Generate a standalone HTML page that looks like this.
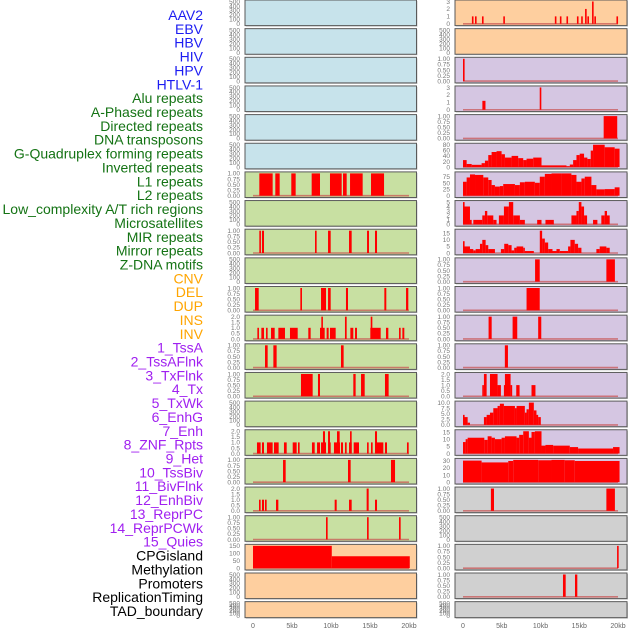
<!DOCTYPE html>
<html><head><meta charset="utf-8"><style>
html,body{margin:0;padding:0;background:#fff;}
svg{display:block;font-family:"Liberation Sans",sans-serif;}
</style></head><body>
<svg id="chart" width="630" height="630" viewBox="0 0 630 630" xmlns="http://www.w3.org/2000/svg"></svg>
<script>
// ---------- labels ----------
const trackLabels = ["AAV2","EBV","HBV","HIV","HPV","HTLV-1","Alu repeats","A-Phased repeats","Directed repeats","DNA transposons","G-Quadruplex forming repeats","Inverted repeats","L1 repeats","L2 repeats","Low_complexity A/T rich regions","Microsatellites","MIR repeats","Mirror repeats","Z-DNA motifs","CNV","DEL","DUP","INS","INV","1_TssA","2_TssAFlnk","3_TxFlnk","4_Tx","5_TxWk","6_EnhG","7_Enh","8_ZNF_Rpts","9_Het","10_TssBiv","11_BivFlnk","12_EnhBiv","13_ReprPC","14_ReprPCWk","15_Quies","CPGisland","Methylation","Promoters","ReplicationTiming","TAD_boundary"];
const labelGroups = [6,13,5,15,5];
const groupColors = ["#1c1cf2","#147314","#ffa500","#a020f0","#000000"];
const xTickLabels = ["0","5kb","10kb","15kb","20kb"];
const xTickValues = [0,5,10,15,20];

// ---------- panel scales (yMax) and tick sets ----------
const leftMax  = [500,500,500,500,500,500,1,500,1,500,1,2,1,1,500,2,1,2,1,150,500,500];
const rightMax = [3,500,1,3,1,80,88,5,17,1,1,1,1,2,10,15.5,31,1,500,1,1,500];
const leftBg  = ["b","b","b","b","b","b","g","g","g","g","g","g","g","g","g","g","g","g","g","o","o","o"];
const rightBg = ["o","o","p","p","p","p","p","p","p","p","p","p","p","p","p","p","p","y","y","y","y","y"];

// ---------- left data: [startKb, endKb, value] ----------
const leftL1 = [[.81,2.52,1],[2.86,3.42,1],[4.91,5.47,1],[7.52,8.59,1],[9.87,11.37,1],[11.54,12.01,1],[12.44,14.06,1],[15.13,16.8,1]];
const leftMIR = [[.81,.98,1],[1.15,1.41,1],[7.95,8.16,1],[9.62,9.96,1],[12.31,12.65,1],[14.62,14.87,1],[15.64,15.9,1]];
const leftDEL = [[.26,.73,1],[6.07,6.28,1],[8.72,9.36,1],[9.62,9.96,1],[11.92,12.18,1],[16.84,17.09,1],[19.62,19.91,1]];
const leftINS = [[.56,.73,1],[1.07,1.41,1],[1.67,1.84,1],[2.31,2.78,1],[3.25,4.1,1],[4.74,5.73,1],[7.09,7.39,1],[8.59,9.19,1],[9.44,9.7,1],[9.87,10.6,1],[12.48,12.86,1],[13.08,13.33,1],[15.04,16.37,1],[17.05,17.35,1],[18.72,18.93,1],[19.15,19.4,1],[8.76,8.89,2],[11.79,12.01,2],[15.09,15.3,2]];
const leftTssA = [[1.54,1.88,1],[2.61,3.03,1],[11.28,11.62,1]];
const leftTssAFlnk = [[6.15,7.65,1],[8.33,8.59,1],[12.86,13.16,1],[13.85,14.32,1],[16.92,17.39,1]];
const leftTx = [[.51,.98,1],[1.15,1.41,1],[1.79,2.52,1],[2.69,3.29,1],[3.97,4.32,1],[5.09,5.6,1],[5.77,5.98,1],[7.56,7.91,1],[8.21,8.59,1],[8.72,9.36,1],[9.66,9.96,1],[10.38,11.15,1],[11.28,11.54,1],[11.79,12.01,1],[12.31,12.65,1],[12.91,13.59,1],[14.62,14.83,1],[15.13,15.34,1],[15.81,16.71,1],[16.92,17.18,1],[19.74,19.96,1],[8.97,9.23,2],[9.62,9.87,2],[10.77,11.11,2],[12.44,12.65,2],[15.64,15.9,2]];
const leftTxWk = [[3.85,4.19,1],[12.18,12.52,1],[17.69,18.21,1]];
const leftEnhG = [[.77,.98,1],[1.15,1.41,1],[1.54,1.75,1],[2.95,3.25,1],[10.47,10.73,1],[12.31,12.65,1],[15.64,15.9,1],[14.57,14.83,2]];
const leftEnh = [[9.36,9.57,1],[14.62,14.83,1],[18.72,18.93,1]];
const leftCPG = [[0,10.1,150],[10.1,20.1,80]];
const leftRows = {6:leftL1,8:leftMIR,10:leftDEL,11:leftINS,12:leftTssA,13:leftTssAFlnk,15:leftTx,16:leftTxWk,17:leftEnhG,18:leftEnh,19:leftCPG};

// ---------- right data ----------
const rightAAV2 = [[1.15,1.3,1],[1.55,1.7,1],[2.45,2.6,1],[5.2,5.35,1],[11.85,12,1],[12.5,12.65,1],[13.35,13.5,1],[14.7,14.85,1],[15.25,15.4,1],[15.75,15.9,2],[16.05,16.2,1],[16.65,16.8,3],[16.95,17.1,1],[19.8,19.95,1]];
const rightHIV = [[0,.2,1]];
const rightAlu = [[2.5,2.9,1.2],[9.9,10.05,3]];
const rightAPhased = [[18.15,19.9,1]];
const gquadEdges = [0,0.47,1.12,2.4,2.83,3.26,3.69,4.33,4.98,5.41,6.27,7.12,7.77,8.2,9.06,10.13,13.35,13.78,14.21,14.64,15.06,15.62,16.05,16.48,16.78,18.28,19.57,20.2];
const gquadVals = [25,11,8,14,23,43,54,57,46,34,40,32,25,30,34,6,3,9,25,43,48,34,29,59,80,71,66];
const l1Edges = [0,0.47,0.9,1.55,2.62,3.26,3.69,4.12,4.76,5.19,6.7,7.34,7.98,9.27,9.91,10.56,11.42,12.7,13.99,14.64,15.28,15.71,16.57,17.21,18.28,19.57,20.2];
const l1Vals = [55,72,84,82,72,62,42,36,38,46,42,53,55,51,75,86,91,93,82,55,68,75,42,25,26,33];
const lowCxEdges = [0,.17,.9,1.12,1.33,2.49,2.83,3.13,3.91,4.33,4.63,5.28,5.92,6.48,7.34,7.98,9.57,10.13,10.64,11.72,13.99,14.64,14.94,15.28,15.62,16.01,16.78,17.34,17.85,18.28,18.58,18.93,20];
const lowCxVals = [5,4,1,0,1,2,3,2,1,0,2,4,5,2,1,0,1,0,1,0,2,3,5,4,2,0,1,0,2,3,2,0];
const mirEdges = [0,.17,.9,1.33,1.63,2.19,2.49,2.92,3.26,4.12,4.89,5.32,5.84,6.27,6.61,6.91,7.77,7.98,9.14,9.91,10.21,10.56,10.99,11.55,12.06,12.49,13.56,13.86,14.42,14.85,15.28,17.21,17.64,18.5,18.93,20];
const mirVals = [9,5,3,2,3,7,10,6,3,0,3,7,6,2,4,5,4,1.5,0,18,11,8,3,1.5,3,1.5,5,10,7,4,0,3,5,4,0];
const rightCNV = [[9.3,9.9,1],[18.5,19.6,1]];
const rightDEL = [[8.2,9.9,1]];
const rightINS = [[3.3,3.7,1],[6.4,7.0,1],[9.7,10.1,1]];
const rightTssA = [[5.4,5.8,1]];
const rightTssAFlnk = [[2.49,2.7,1],[2.7,3.05,2],[3.48,4.46,2],[4.46,4.89,1],[5.28,5.41,1],[5.41,6.14,2],[6.14,6.31,1],[6.87,7.3,1],[8.84,9.35,1]];
const txEdges = [0,.17,.6,.9,2.7,3.05,3.48,3.91,4.46,4.76,5.28,6.7,6.91,7.98,8.2,8.5,9.14,9.48,9.7,10.04];
const txVals = [4.5,3.5,1,0,3.5,4.5,5.5,7.5,8.5,9.5,8.5,7.5,8.5,5.5,7,10,6.5,4.5,3.5];
const txWkEdges = [0,.34,.6,2.75,3.18,3.69,4.12,4.98,5.41,6.91,7.25,7.77,8.5,8.84,9.27,10.13,10.64,11.63,13.78,14.85,19.36,20.2];
const txWkVals = [8,10,11,9.5,12,11,10,11,12,11,13,15.5,11,15,15.5,5.5,6,5.5,4.5,3.5,4.5];
const enhGEdges = [0,2.4,5.84,6.48,9.7,11.42,13.13,14.42,20.2];
const enhGVals = [30,27.5,29.5,31,30.5,31,30.5,29.5];
const rightBivFlnk = [[3.6,4.0,1],[18.5,19.6,1]];
const rightCPG = [[19.88,20.03,1]];
const rightMeth = [[12.9,13.25,1],[14.45,14.75,1]];

function toSegs(edges, vals){ const s=[]; for(let i=0;i<vals.length;i++) s.push([edges[i],edges[i+1],vals[i]]); return s; }
const rightRows = {0:rightAAV2,2:rightHIV,3:rightAlu,4:rightAPhased,5:toSegs(gquadEdges,gquadVals),6:toSegs(l1Edges,l1Vals),7:toSegs(lowCxEdges,lowCxVals),8:toSegs(mirEdges,mirVals),9:rightCNV,10:rightDEL,11:rightINS,12:rightTssA,13:rightTssAFlnk,14:toSegs(txEdges,txVals),15:toSegs(txWkEdges,txWkVals),16:toSegs(enhGEdges,enhGVals),17:rightBivFlnk,19:rightCPG,20:rightMeth};

// ---------- drawing ----------
const NS="http://www.w3.org/2000/svg";
const svg=document.getElementById('chart');
function mk(tag,attrs,parent){const e=document.createElementNS(NS,tag);for(const k in attrs)e.setAttribute(k,attrs[k]);(parent||svg).appendChild(e);return e;}
const bgColors={b:"#c7e3eb",g:"#c8e0a2",o:"#fecf9f",p:"#d5c6e2",y:"#d0d0d0"};

// labels
let li=0;
labelGroups.forEach((n,g)=>{for(let j=0;j<n;j++){
  const t=mk('text',{x:203,y:20+li*13.86,'text-anchor':'end','font-size':'14',fill:groupColors[g]});
  t.textContent=trackLabels[li];
  
  
  li++;}});

function ticksFor(max){
  if(max===500) return [[0,"0"],[100,"100"],[200,"200"],[300,"300"],[400,"400"],[500,"500"]];
  if(max===1) return [0,.25,.5,.75,1].map(v=>[v,v.toFixed(2)]);
  if(max===2) return [0,.5,1,1.5,2].map(v=>[v,v.toFixed(1)]);
  if(max===10) return [0,2.5,5,7.5,10].map(v=>[v,v.toFixed(1)]);
  if(max===3) return [0,1,2,3].map(v=>[v,String(v)]);
  if(max===5) return [0,1,2,3,4,5].map(v=>[v,String(v)]);
  if(max===150) return [0,50,100,150].map(v=>[v,String(v)]);
  if(max===80) return [0,20,40,60,80].map(v=>[v,String(v)]);
  if(max===88) return [0,25,50,75].map(v=>[v,String(v)]);
  if(max===31) return [0,10,20,30].map(v=>[v,String(v)]);
  return [0,5,10,15].map(v=>[v,String(v)]);
}

function drawPanel(side,i){
  const isL=side==='L';
  const px=isL?245:455, pw=isL?171.5:172;
  const top=i*28.65, h=(i===21)?16:25.6;
  const x0=isL?253:463, kx=isL?7.8:7.75;
  const xs=kb=>x0+kb*kx;
  const max=(isL?leftMax:rightMax)[i];
  const yb=top+h-1.8, yt=top+1.5;
  const ys=v=>yb-(Math.min(v,max)/max)*(yb-yt);
  const g=mk('g',{});
  
  
  mk('rect',{x:px+1,y:top+1,width:pw,height:h,fill:'#c8c8c8'},g);
  const r=mk('rect',{x:px,y:top,width:pw,height:h,fill:bgColors[(isL?leftBg:rightBg)[i]],stroke:'#5a5a5a','stroke-width':1},g);
  
  
  ticksFor(max).forEach(([v,lab])=>{
    const t=mk('text',{x:px-5,y:ys(v)+2.3,'text-anchor':'end','font-size':'6.5',fill:'#777'},g);
    t.textContent=lab;
  });
  const segs=(isL?leftRows:rightRows)[i];
  if(segs){
    const bl=mk('line',{x1:xs(0),x2:xs(20),y1:yb,y2:yb,stroke:'#c85050','stroke-width':1.6,'stroke-opacity':0.7},g);
    
    
    segs.forEach(s=>{
      if(s[2]<=0) return;
      const xa=xs(s[0]); let w=xs(s[1])-xa; if(w<1.6) w=1.6;
      const b=mk('rect',{x:xa,y:ys(s[2]),width:w,height:yb-ys(s[2]),fill:'#ff0000'},g);
      
      
    });
  }
}
for(let i=0;i<22;i++){drawPanel('L',i);drawPanel('R',i);}

// x axes
['L','R'].forEach(side=>{
  const x0=side==='L'?253:463, kx=side==='L'?7.8:7.75;
  xTickValues.forEach((v,k)=>{
    const t=mk('text',{x:x0+v*kx,y:628,'text-anchor':'middle','font-size':'7',fill:'#666'});
    t.textContent=xTickLabels[k];
    
    
  });
});
</script>
</body></html>
